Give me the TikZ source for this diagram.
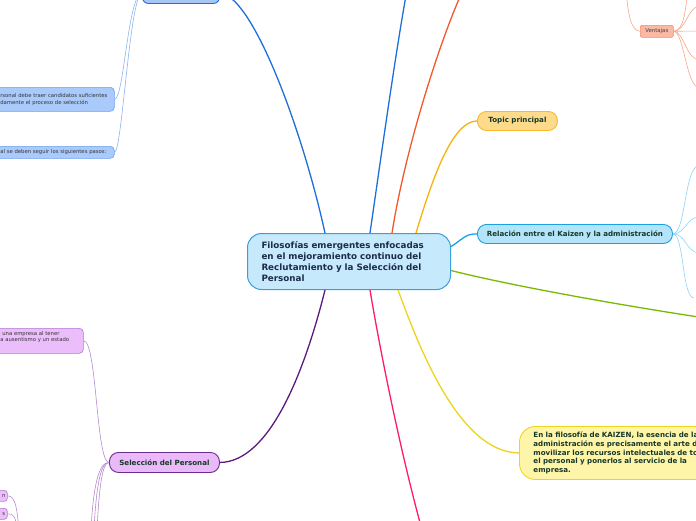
\documentclass[tikz,border=0pt]{standalone}
\usepackage{fontspec}
\setmainfont{DejaVu Sans}
\definecolor{cfill}{HTML}{C6E9FB}
\definecolor{cdraw}{HTML}{3A9FDC}
\definecolor{navy}{HTML}{1B2B4D}
\definecolor{dgreen}{HTML}{16382A}
\definecolor{blueline}{HTML}{1E6FD9}
\definecolor{orangeline}{HTML}{F2582B}
\definecolor{topicline}{HTML}{F5B30A}
\definecolor{cyanline}{HTML}{1AA0E0}
\definecolor{greenline}{HTML}{7BB800}
\definecolor{yellowline}{HTML}{ECD41E}
\definecolor{pinkline}{HTML}{FF1A6B}
\definecolor{purpleline}{HTML}{5C1A7E}
\definecolor{tpfill}{HTML}{FDDB8B}
\definecolor{tpdraw}{HTML}{F9B92A}
\definecolor{relfill}{HTML}{B3E4F9}
\definecolor{reldraw}{HTML}{1BA1E2}
\definecolor{kzfill}{HTML}{FFF5A8}
\definecolor{kzdraw}{HTML}{EFD522}
\definecolor{selfill}{HTML}{EAB9F9}
\definecolor{seldraw}{HTML}{6D2D8D}
\definecolor{pchfill}{HTML}{EBBDFB}
\definecolor{pchdraw}{HTML}{B277D2}
\definecolor{pchline}{HTML}{B48AD0}
\definecolor{bchfill}{HTML}{A9CAFB}
\definecolor{bchdraw}{HTML}{6A9FF0}
\definecolor{bchline}{HTML}{8AB4F0}
\definecolor{tlfill}{HTML}{A6C6F6}
\definecolor{venfill}{HTML}{FBB9A5}
\definecolor{vendraw}{HTML}{F48A6A}
\definecolor{venline}{HTML}{F8A58A}
\definecolor{relline}{HTML}{8DD3F3}
\begin{document}
\begin{tikzpicture}[x=1pt,y=-1pt,
  mmbox/.style={draw, line width=0.9pt, inner sep=0pt, anchor=north west, rounded corners=6pt},
  mainline/.style={line width=1.3pt},
  subline/.style={line width=0.6pt},
  bigtxt/.style={font=\fontsize{8.75}{10.8}\selectfont\bfseries, text=navy},
  midtxt/.style={font=\fontsize{7.1}{8.7}\selectfont\bfseries, text=dgreen},
  smalltxt/.style={font=\fontsize{5.3}{6.6}\selectfont, text=black!80}]
\useasboundingbox (0,0) rectangle (696,520);
\clip (0,0) rectangle (696,520);
% central node
\node[mmbox, fill=cfill, draw=cdraw, line width=1pt, rounded corners=14pt, minimum height=56pt,
  text width=175pt, inner xsep=14pt, align=left, bigtxt] (c) at (247,233)
  {Filosofías emergentes enfocadas\\en el mejoramiento continuo del\\Reclutamiento y la Selección del\\Personal};
% main branches nodes
\node[mmbox, fill=tlfill, draw=blueline, minimum width=77pt, minimum height=20pt] (tl) at (142,-17) {};
\node[mmbox, fill=tpfill, draw=tpdraw, rounded corners=9pt, minimum width=80pt, minimum height=19pt, midtxt] (tp) at (477,111) {Topic principal};
\node[mmbox, fill=relfill, draw=reldraw, rounded corners=9pt, minimum width=195pt, minimum height=19pt, midtxt] (rel) at (477,224) {Relación entre el Kaizen y la administración};
\node[mmbox, fill=kzfill, draw=kzdraw, rounded corners=16pt, minimum height=53pt, text width=220pt, inner xsep=14pt, align=left, midtxt] (kz) at (519,426)
  {En la filosofía de KAIZEN, la esencia de la\\administración es precisamente el arte de\\movilizar los recursos intelectuales de todo\\el personal y ponerlos al servicio de la\\empresa.};
\node[mmbox, fill=selfill, draw=seldraw, rounded corners=9pt, minimum width=110pt, minimum height=20pt, midtxt] (sel) at (109,452) {Selección del Personal};
% blue children of top-left node
\node[mmbox, fill=bchfill, draw=bchdraw, line width=0.6pt, rounded corners=4pt, minimum height=24pt, text width=108pt, inner xsep=6pt, align=left, smalltxt] (b1) at (-6,87)
  {\mbox{rsonal debe traer candidatos suficientes}\\\mbox{damente el proceso de selección}};
\node[mmbox, fill=bchfill, draw=bchdraw, line width=0.6pt, rounded corners=4pt, minimum height=12pt, text width=108pt, inner xsep=6pt, align=left, smalltxt] (b2) at (-6,146)
  {\mbox{al se deben seguir los siguientes pasos:}};
% purple children
\node[mmbox, fill=pchfill, draw=pchdraw, line width=0.6pt, rounded corners=4pt, minimum height=25pt, text width=77pt, inner xsep=6pt, align=left, smalltxt] (p1) at (-6,328)
  {\mbox{\hspace*{2pt}una empresa al tener}\\\mbox{a ausentismo y un estado}\\\strut};
\node[mmbox, fill=pchfill, draw=pchdraw, line width=0.6pt, rounded corners=3pt, minimum height=11pt, minimum width=13pt, smalltxt] (p2) at (-6,490) {\hspace*{6pt}n};
\node[mmbox, fill=pchfill, draw=pchdraw, line width=0.6pt, rounded corners=3pt, minimum height=11pt, minimum width=13pt, smalltxt] (p3) at (-6,508) {\hspace*{6pt}s};
% Ventajas
\node[mmbox, fill=venfill, draw=vendraw, line width=0.6pt, rounded corners=2pt, minimum width=33pt, minimum height=12pt, font=\fontsize{5.4}{6}\selectfont, text=black!75] (ven) at (640,25) {Ventajas};
% free ends
\coordinate (t2) at (407,-10);
\coordinate (t3) at (463,-10);
\coordinate (g1) at (705,318);
\coordinate (pk) at (422,530);
\coordinate (v0) at (626,-8);
\coordinate (v1) at (688,-8);
\coordinate (v2) at (700,6);
\coordinate (v3) at (700,31);
\coordinate (v4) at (700,60);
\coordinate (v5) at (700,88);
\coordinate (r1) at (700,165);
\coordinate (r2) at (700,217);
\coordinate (r3) at (700,253);
\coordinate (r4) at (694,298);
\coordinate (s1) at (91,530);
\coordinate (s2) at (94,530);
\coordinate (s3) at (97,530);
\coordinate (q2) at (19,530);
\coordinate (q3) at (17,530);
% main connectors
\draw[mainline, blueline] ([xshift=78pt]c.north west) .. controls (300,120) and (250,-7) .. (tl.east);
\draw[mainline, blueline] ([xshift=123pt]c.north west) .. controls (382,150) and (396,50) .. (t2);
\draw[mainline, orangeline] ([xshift=145pt]c.north west) .. controls (405,150) and (440,40) .. (t3);
\draw[mainline, topicline] ([xshift=169pt]c.north west) .. controls (432,180) and (452,121) .. (tp.west);
\draw[mainline, cyanline] ([yshift=15pt]c.east) .. controls (462,240) and (465,233.5) .. (rel.west);
\draw[mainline, greenline] ([yshift=-9pt]c.east) .. controls (500,283) and (600,302) .. (g1);
\draw[mainline, yellowline] ([xshift=151pt]c.south west) .. controls (420,350) and (460,452.5) .. (kz.west);
\draw[mainline, pinkline] ([xshift=123pt]c.south west) .. controls (380,350) and (400,450) .. (pk);
\draw[mainline, purpleline] ([xshift=78pt]c.south west) .. controls (305,370) and (270,462) .. (sel.east);
% sub connectors
\draw[subline, bchline] (tl.west) .. controls (128,-7) and (124,99) .. (b1.east);
\draw[subline, bchline] (tl.west) .. controls (130,-7) and (122,152) .. (b2.east);
\draw[subline, pchline] (sel.west) .. controls (96,462) and (97,340.5) .. (p1.east);
\draw[subline, pchline] (sel.west) .. controls (98,462) and (93,490) .. (s1);
\draw[subline, pchline] (sel.west) .. controls (100,462) and (96,490) .. (s2);
\draw[subline, pchline] (sel.west) .. controls (102,462) and (99,490) .. (s3);
\draw[subline, pchline] (p2.east) .. controls (16,496) and (17,510) .. (q2);
\draw[subline, pchline] (p3.east) .. controls (14,513) and (16,518) .. (q3);
\draw[subline, venline] (ven.west) .. controls (630,31) and (628,10) .. (v0);
\draw[subline, venline] (ven.east) .. controls (684,31) and (685,10) .. (v1);
\draw[subline, venline] (ven.east) .. controls (686,31) and (688,6) .. (v2);
\draw[subline, venline] (ven.east) -- (v3);
\draw[subline, venline] (ven.east) .. controls (684,31) and (686,60) .. (v4);
\draw[subline, venline] (ven.east) .. controls (684,31) and (686,88) .. (v5);
\draw[subline, relline] (rel.east) .. controls (686,233.5) and (684,165) .. (r1);
\draw[subline, relline] (rel.east) .. controls (686,233.5) and (686,217) .. (r2);
\draw[subline, relline] (rel.east) .. controls (686,233.5) and (686,253) .. (r3);
\draw[subline, relline] (rel.east) .. controls (684,233.5) and (682,298) .. (r4);
\end{tikzpicture}
\end{document}
